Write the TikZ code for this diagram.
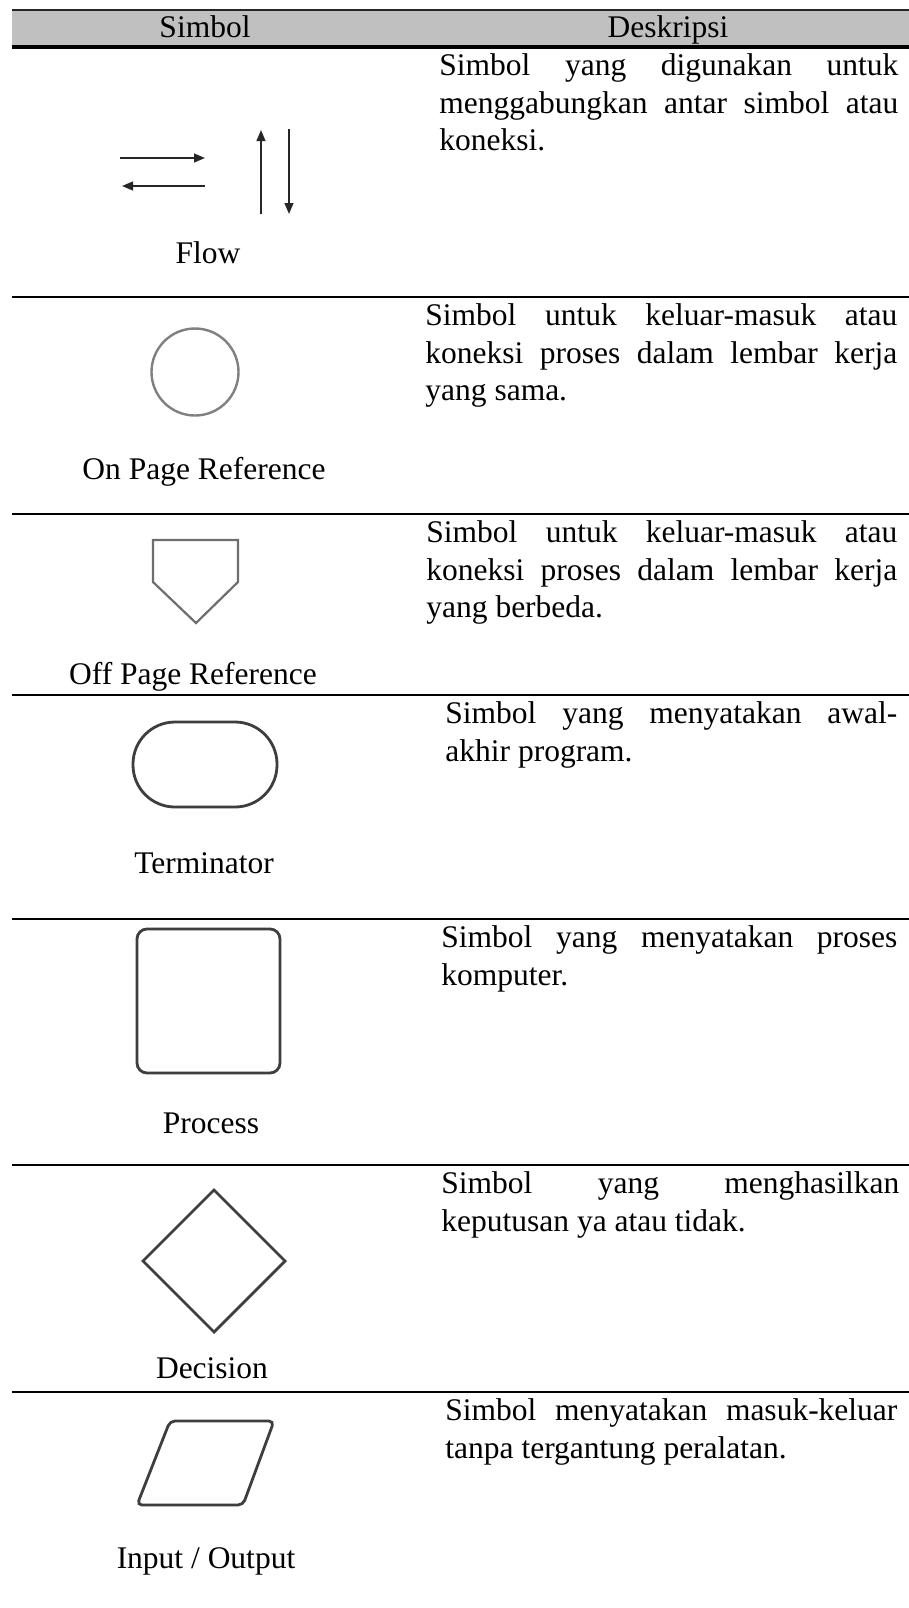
\documentclass[tikz,border=0pt]{standalone}
\usepackage{fontspec}
\setmainfont{Liberation Serif}
\usetikzlibrary{arrows.meta}
\definecolor{headgrey}{RGB}{192,192,192}
\definecolor{symlight}{RGB}{128,128,128}
\definecolor{symmid}{RGB}{110,110,110}
\definecolor{symdark}{RGB}{62,62,62}
% a description line spread to the full cell width
\newcommand\spreadline[2]{\makebox[#1][s]{#2}}

\begin{document}
\begin{tikzpicture}[x=0.5pt,y=-0.5pt,
  every node/.style={inner sep=0pt, font=\fontsize{15.75}{18.75}\selectfont},
  desc/.style={anchor=base west},
  lbl/.style={anchor=base},
  rulebar/.style={line width=1.4pt, draw=black},
  flowarrow/.style={line width=0.9pt, draw=black!85, -{Triangle[length=5.5pt,width=4.4pt]}},
  lightsym/.style={draw=symlight, line width=1.2pt},
  midsym/.style={draw=symmid, line width=1.1pt},
  darksym/.style={draw=symdark, line width=1.4pt}]

\useasboundingbox (0,0) rectangle (909,1608);
\fill[white] (0,0) rectangle (909,1608);

% header
\fill[headgrey] (12,10) rectangle (909,47);
\draw[line width=1.3pt, draw=black!85] (12,10) -- (909,10);
\draw[rulebar, line width=1.6pt] (12,47) -- (909,47);
\node[lbl] (hsym) at (205,37) {Simbol};
\node[lbl] (hdesc) at (668,37) {Deskripsi};

% row separators
\foreach \ry in {297,514,695,919,1165,1392}
  \draw[rulebar] (12,\ry) -- (909,\ry);

% row 1: flow
\coordinate (r1a) at (120,158); \coordinate (r1b) at (205,158);
\coordinate (l1a) at (205,186); \coordinate (l1b) at (122,186);
\coordinate (u1a) at (261,214); \coordinate (u1b) at (261,130);
\coordinate (d1a) at (289,129); \coordinate (d1b) at (289,214);
\draw[flowarrow] (r1a) -- (r1b);
\draw[flowarrow] (l1a) -- (l1b);
\draw[flowarrow] (u1a) -- (u1b);
\draw[flowarrow] (d1a) -- (d1b);
\node[lbl] (flow) at (208,263) {Flow};
\node[desc] (d1l1) at (439,75.5) {\spreadline{229.5pt}{Simbol yang digunakan untuk}};
\node[desc] (d1l2) at (439,113) {\spreadline{229.5pt}{menggabungkan antar simbol atau}};
\node[desc] (d1l3) at (439,150.5) {koneksi.};

% row 2: on page reference
\draw[lightsym] (195,372) circle[radius=43.5];
\node[lbl] (onpage) at (204,479) {On Page Reference};
\node[desc] (d2l1) at (425,325.5) {\spreadline{236pt}{Simbol untuk keluar-masuk atau}};
\node[desc] (d2l2) at (425,363) {\spreadline{236pt}{koneksi proses dalam lembar kerja}};
\node[desc] (d2l3) at (425,400.5) {yang sama.};

% row 3: off page reference
\draw[midsym, line join=miter] (153,540) -- (238,540) -- (238,582) -- (196,623) -- (153,582) -- cycle;
\node[lbl] (offpage) at (193,684) {Off Page Reference};
\node[desc] (d3l1) at (426,542.5) {\spreadline{235.5pt}{Simbol untuk keluar-masuk atau}};
\node[desc] (d3l2) at (426,580) {\spreadline{235.5pt}{koneksi proses dalam lembar kerja}};
\node[desc] (d3l3) at (426,617.5) {yang berbeda.};

% row 4: terminator
\draw[darksym, rounded corners=21pt] (133,722) rectangle (277,807);
\node[lbl] (term) at (204,873) {Terminator};
\node[desc] (d4l1) at (445,723.5) {\spreadline{226pt}{Simbol yang menyatakan awal-}};
\node[desc] (d4l2) at (445,761) {akhir program.};

% row 5: process
\draw[darksym, rounded corners=5pt] (137,929) rectangle (280,1073);
\node[lbl] (proc) at (211,1133) {Process};
\node[desc] (d5l1) at (441,947.5) {\spreadline{228pt}{Simbol yang menyatakan proses}};
\node[desc] (d5l2) at (441,985) {komputer.};

% row 6: decision
\draw[darksym, line join=miter] (214,1190) -- (285,1261) -- (214,1332) -- (143,1261) -- cycle;
\node[lbl] (dec) at (212,1378) {Decision};
\node[desc] (d6l1) at (441,1193.5) {\spreadline{229pt}{Simbol yang menghasilkan}};
\node[desc] (d6l2) at (441,1231) {keputusan ya atau tidak.};

% row 7: input / output
\draw[darksym, rounded corners=2.5pt] (170,1421) -- (274,1421) -- (243,1505) -- (137,1505) -- cycle;
\node[lbl] (io) at (206,1568) {Input / Output};
\node[desc] (d7l1) at (445,1420.5) {\spreadline{226pt}{Simbol menyatakan masuk-keluar}};
\node[desc] (d7l2) at (445,1458) {tanpa tergantung peralatan.};

\end{tikzpicture}
\end{document}
